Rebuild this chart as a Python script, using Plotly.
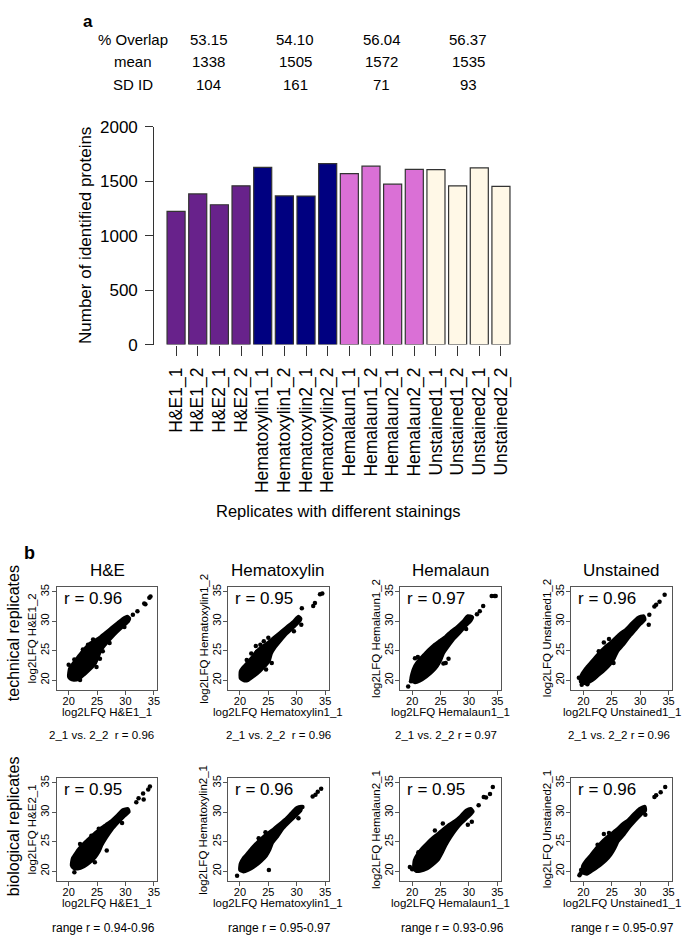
import plotly.graph_objects as go

W, H = 682, 945
FONT = "Liberation Sans, Arial, Helvetica, sans-serif"


def pxx(x):
    return x / W


def pyy(y):
    return 1 - y / H


# ---------------- Panel a data ----------------
samples = ["H&E1_1", "H&E1_2", "H&E2_1", "H&E2_2",
           "Hematoxylin1_1", "Hematoxylin1_2", "Hematoxylin2_1", "Hematoxylin2_2",
           "Hemalaun1_1", "Hemalaun1_2", "Hemalaun2_1", "Hemalaun2_2",
           "Unstained1_1", "Unstained1_2", "Unstained2_1", "Unstained2_2"]
protein_counts = [1223, 1382, 1283, 1457,
                  1625, 1364, 1363, 1661,
                  1568, 1637, 1472, 1607,
                  1606, 1457, 1622, 1451]
staining_groups = ["H&E", "Hematoxylin", "Hemalaun", "Unstained"]
group_colors = ["#68228B", "#000080", "#DA70D6", "#FFF8E7"]
overlap_pct = ["53.15", "54.10", "56.04", "56.37"]
mean_ids = ["1338", "1505", "1572", "1535"]
sd_ids = ["104", "161", "71", "93"]
y_ticks_a = [0, 500, 1000, 1500, 2000]

# ---------------- Panel b data ----------------
# dense point clouds traced as outlines (x, y) plus visible outlying points
tech_labels = [("log2LFQ H&E1_1", "log2LFQ H&E1_2"),
               ("log2LFQ Hematoxylin1_1", "log2LFQ Hematoxylin1_2"),
               ("log2LFQ Hemalaun1_1", "log2LFQ Hemalaun1_2"),
               ("log2LFQ Unstained1_1", "log2LFQ Unstained1_2")]
bio_labels = [("log2LFQ H&E1_1", "log2LFQ H&E2_1"),
              ("log2LFQ Hematoxylin1_1", "log2LFQ Hematoxylin2_1"),
              ("log2LFQ Hemalaun1_1", "log2LFQ Hemalaun2_1"),
              ("log2LFQ Unstained1_1", "log2LFQ Unstained2_1")]
tech_r = ["r = 0.96", "r = 0.95", "r = 0.97", "r = 0.96"]
bio_r = ["r = 0.95", "r = 0.96", "r = 0.95", "r = 0.96"]
tech_notes = ["2_1 vs. 2_2\u00a0 r = 0.96", "2_1 vs. 2_2\u00a0 r = 0.96",
              "2_1 vs. 2_2 r = 0.97", "2_1 vs. 2_2 r = 0.96"]
bio_notes = ["range r = 0.94-0.96", "range r = 0.95-0.97",
             "range r = 0.93-0.96", "range r = 0.95-0.97"]
scatter_ticks = [20, 25, 30, 35]

cloud_T1 = [(20.0, 20.6), (20.2, 22.0), (20.8, 22.8), (21.5, 23.7), (22.3, 24.7), (23.1, 25.6),
            (23.9, 26.3), (24.8, 26.8), (25.7, 27.4), (26.6, 28.1), (27.6, 28.9), (28.6, 29.7),
            (29.5, 30.4), (30.3, 30.8), (30.7, 30.5), (30.5, 30.0), (29.6, 29.2), (28.5, 28.2),
            (27.4, 27.1), (26.3, 25.9), (25.6, 25.0), (25.2, 24.0), (24.7, 22.9), (23.8, 21.9),
            (22.8, 21.0), (21.8, 20.2), (20.9, 20.0), (20.3, 20.2)]
out_T1 = [(20.0, 22.6), (21.2, 22.9), (22.5, 25.2), (23.4, 26.0), (24.9, 22.2), (25.5, 23.6),
          (26.0, 24.9), (27.2, 26.3), (29.8, 29.0), (31.3, 31.1), (32.1, 31.7), (33.3, 33.0),
          (33.5, 32.9), (34.2, 34.0), (34.4, 34.2), (22.0, 20.0), (21.0, 23.5), (24.3, 26.9)]

cloud_T2 = [(20.1, 20.3), (20.1, 21.5), (20.6, 22.2), (21.3, 22.9), (22.1, 23.8), (22.9, 24.8),
            (23.7, 25.5), (24.6, 26.1), (25.5, 26.8), (26.5, 27.6), (27.5, 28.4), (28.5, 29.2),
            (29.5, 30.0), (30.3, 30.8), (30.7, 30.4), (30.3, 29.8), (29.3, 28.9), (28.2, 27.9),
            (27.2, 26.8), (26.2, 25.6), (25.5, 24.5), (25.1, 23.2), (24.4, 22.4), (23.5, 21.5),
            (22.5, 20.7), (21.5, 20.0), (20.7, 19.9)]
out_T2 = [(22.0, 24.5), (22.8, 25.8), (23.0, 24.8), (23.6, 26.0), (24.2, 26.6), (25.0, 27.2),
          (24.6, 21.8), (25.6, 22.9), (29.5, 28.3), (30.8, 29.4), (30.9, 32.2), (32.9, 32.6),
          (33.2, 33.1), (34.1, 34.6), (34.5, 34.7), (21.2, 23.4)]

cloud_T3 = [(19.8, 20.0), (20.0, 21.1), (20.5, 22.4), (21.2, 23.4), (22.0, 24.2), (22.9, 25.1),
            (23.9, 26.0), (24.9, 26.7), (25.9, 27.4), (26.9, 28.3), (27.9, 29.0), (28.9, 29.9),
            (29.8, 30.9), (30.6, 30.7), (30.3, 30.1), (29.3, 29.1), (28.3, 28.0), (27.3, 27.0),
            (26.3, 25.7), (25.5, 24.6), (25.0, 23.4), (24.4, 22.4), (23.5, 21.4), (22.5, 20.6),
            (21.4, 19.9), (20.5, 19.6)]
out_T3 = [(19.3, 18.9), (19.8, 19.8), (20.5, 23.7), (21.0, 23.9), (25.5, 22.8), (25.9, 22.9),
          (26.4, 23.6), (29.5, 28.7), (31.4, 31.2), (31.9, 31.7), (32.5, 32.6), (34.0, 34.3),
          (34.5, 34.3), (34.7, 34.3)]

cloud_T4 = [(19.5, 19.7), (19.6, 20.7), (20.3, 21.8), (21.1, 22.7), (21.9, 23.6), (22.8, 24.6),
            (23.7, 25.5), (24.6, 26.2), (25.5, 27.0), (26.5, 27.9), (27.5, 28.6), (28.5, 29.6),
            (29.6, 30.6), (30.6, 30.9), (30.8, 30.3), (30.0, 29.5), (29.0, 28.4), (28.0, 27.3),
            (27.0, 26.0), (26.0, 24.9), (25.4, 23.7), (24.7, 22.7), (23.8, 21.8), (22.7, 20.9),
            (21.6, 20.0), (20.4, 19.4)]
out_T4 = [(19.2, 20.4), (19.7, 19.2), (20.7, 19.3), (22.7, 24.9), (23.6, 26.4), (24.5, 27.0),
          (25.3, 22.9), (31.5, 29.4), (31.6, 31.1), (32.5, 32.5), (32.8, 32.8), (33.4, 33.3),
          (34.3, 34.5)]

cloud_B1 = [(20.5, 21.0), (20.7, 22.2), (21.3, 23.1), (22.1, 24.1), (22.9, 24.9), (23.8, 25.7),
            (24.7, 26.5), (25.6, 27.2), (26.6, 27.9), (27.6, 28.6), (28.6, 29.5), (29.5, 30.4),
            (30.4, 30.6), (30.6, 30.1), (29.7, 29.3), (28.6, 28.2), (27.6, 27.1), (26.6, 25.7),
            (25.8, 24.4), (25.3, 23.3), (24.6, 22.3), (23.7, 21.5), (22.7, 20.8), (21.6, 20.4),
            (20.9, 20.5)]
out_B1 = [(21.0, 19.8), (22.5, 24.3), (23.5, 25.2), (24.0, 26.0), (25.3, 27.2), (24.6, 21.5),
          (26.7, 23.5), (29.4, 28.2), (31.9, 31.7), (32.3, 32.4), (33.1, 33.2), (33.2, 32.2),
          (34.0, 33.9), (34.3, 34.4), (22.0, 24.6)]

cloud_B2 = [(20.0, 20.2), (20.1, 21.3), (20.7, 22.3), (21.5, 23.2), (22.3, 24.1), (23.2, 25.0),
            (24.1, 25.8), (25.0, 26.5), (26.0, 27.2), (27.0, 28.0), (28.0, 28.8), (29.0, 29.8),
            (29.9, 30.7), (30.8, 31.0), (30.7, 30.3), (29.8, 29.4), (28.7, 28.4), (27.6, 27.3),
            (26.6, 25.9), (25.7, 24.8), (25.2, 23.6), (24.6, 22.6), (23.7, 21.7), (22.7, 20.9),
            (21.5, 20.2), (20.6, 19.9)]
out_B2 = [(19.5, 19.2), (24.5, 26.6), (23.3, 25.6), (25.1, 20.2), (30.3, 29.0), (31.0, 30.9),
          (32.8, 32.7), (33.3, 33.0), (33.7, 33.5), (34.3, 34.0)]

cloud_B3 = [(20.3, 20.4), (20.4, 21.8), (21.0, 22.9), (21.8, 23.9), (22.7, 24.8), (23.6, 25.6),
            (24.5, 26.3), (25.5, 27.1), (26.5, 27.9), (27.5, 28.5), (28.5, 29.3), (29.5, 30.3),
            (30.3, 30.6), (30.7, 30.1), (29.8, 29.2), (28.7, 28.2), (27.7, 27.1), (26.7, 25.7),
            (25.9, 24.4), (25.3, 23.2), (24.6, 22.0), (23.6, 21.1), (22.6, 20.4), (21.4, 20.0),
            (20.7, 20.0)]
out_B3 = [(19.6, 20.7), (20.0, 20.3), (21.1, 23.2), (24.0, 26.9), (25.4, 28.1), (30.5, 28.4),
          (29.8, 27.9), (31.7, 31.2), (32.6, 32.6), (33.0, 32.5), (33.7, 33.1), (34.2, 34.3)]

cloud_B4 = [(19.8, 19.8), (19.9, 20.9), (20.6, 21.9), (21.4, 22.8), (22.2, 23.8), (23.1, 24.8),
            (24.0, 25.6), (24.9, 26.3), (25.9, 27.1), (26.9, 28.0), (27.9, 28.7), (28.9, 29.7),
            (29.9, 30.6), (30.8, 31.0), (30.9, 30.3), (30.1, 29.6), (29.1, 28.6), (28.1, 27.5),
            (27.1, 26.2), (26.1, 25.1), (25.5, 23.9), (24.8, 22.8), (23.9, 21.8), (22.9, 21.0),
            (21.7, 20.2), (20.6, 19.5)]
out_B4 = [(19.3, 19.3), (19.6, 20.2), (19.5, 19.6), (22.5, 24.5), (23.6, 26.3), (24.5, 26.5),
          (30.9, 29.6), (30.5, 30.0), (32.5, 32.6), (32.8, 32.9), (33.6, 33.4), (34.4, 34.3)]

tech_clouds = [(cloud_T1, out_T1), (cloud_T2, out_T2), (cloud_T3, out_T3), (cloud_T4, out_T4)]
bio_clouds = [(cloud_B1, out_B1), (cloud_B2, out_B2), (cloud_B3, out_B3), (cloud_B4, out_B4)]

# ---------------- layout geometry (pixels) ----------------
BAR_L, BAR_R = 154, 526
BAR_TOP, BAR_BOT = 120, 342.5
COLS = [(57, 158), (229, 330), (402, 503), (574, 675)]
ROWS = [(590, 695), (785, 890)]
XR = [17.9, 35.6]
YR = [18.3, 35.8]

fig = go.Figure()
annotations = []


def ann(text, x, y, size, xanchor="center", yanchor="middle", angle=0, bold=False):
    annotations.append(dict(
        text=("<b>%s</b>" % text) if bold else text,
        x=x, y=y, xref="paper", yref="paper",
        xanchor=xanchor, yanchor=yanchor, textangle=angle, showarrow=False,
        font=dict(family=FONT, size=size, color="black")))


# ---------------- Panel a ----------------
bar_colors = [group_colors[i // 4] for i in range(len(samples))]
fig.add_trace(go.Bar(x=samples, y=protein_counts, marker=dict(color=bar_colors,
                     line=dict(color="#333333", width=1.2)),
                     xaxis="x", yaxis="y", showlegend=False))

fig.update_layout(
    xaxis=dict(domain=[pxx(BAR_L), pxx(BAR_R)], range=[-1.05, 16.05], type="category",
               showline=False, showgrid=False, zeroline=False, ticks="outside", ticklen=10,
               tickcolor="#333333", tickangle=-90, ticklabelstandoff=5,
               tickfont=dict(family=FONT, size=17.5, color="black"), anchor="y"),
    yaxis=dict(domain=[pyy(BAR_BOT), pyy(BAR_TOP)], range=[0, 2000], tickvals=y_ticks_a,
               showline=True, linecolor="#333333", linewidth=1.2, showgrid=False, zeroline=False,
               ticks="outside", ticklen=8, tickcolor="#333333", ticklabelstandoff=4,
               tickfont=dict(family=FONT, size=17, color="black"), anchor="free",
               position=pxx(BAR_L)),
    bargap=1 - 1 / 1.2,
)

ann("a", pxx(88), pyy(13), 17, bold=True)
ann("Number of identified proteins", pxx(86), pyy(231), 17, angle=-90)
ann("Replicates with different stainings", pxx(340), pyy(512), 16.5)
row_names = ["% Overlap", "mean", "SD ID"]
row_y = [31, 54, 77]
for name, yy in zip(row_names, row_y):
    ann(name, pxx(134), pyy(yy), 15)
for g in range(4):
    gx = 4 * g + 1.5
    for vals, yy in zip([overlap_pct, mean_ids, sd_ids], row_y):
        annotations.append(dict(text=vals[g], x=gx, y=pyy(yy), xref="x", yref="paper",
                                xanchor="center", yanchor="middle", showarrow=False,
                                font=dict(family=FONT, size=15, color="black")))

# ---------------- Panel b ----------------
ann("b", pxx(30), pyy(555), 18, bold=True)
ann("technical replicates", pxx(13), pyy(637), 16, angle=-90)
ann("biological replicates", pxx(13), pyy(834), 16, angle=-90)

note_x_top = [102, 280, 448, 622]
note_x_bot = [104, 281, 454, 625]

idx = 2
for r, (rt, rb) in enumerate(ROWS):
    clouds = tech_clouds if r == 0 else bio_clouds
    labels = tech_labels if r == 0 else bio_labels
    rtexts = tech_r if r == 0 else bio_r
    notes = tech_notes if r == 0 else bio_notes
    for c, (cl, cr) in enumerate(COLS):
        xa, ya = "x%d" % idx, "y%d" % idx
        poly, outs = clouds[c]
        px_ = [p[0] for p in poly] + [poly[0][0]]
        py_ = [p[1] for p in poly] + [poly[0][1]]
        fig.add_trace(go.Scatter(x=px_, y=py_, mode="lines", fill="toself", fillcolor="black",
                                 line=dict(color="black", width=3.5, shape="spline", smoothing=0.5),
                                 xaxis=xa, yaxis=ya, showlegend=False, hoverinfo="skip"))
        fig.add_trace(go.Scatter(x=[p[0] for p in outs], y=[p[1] for p in outs], mode="markers",
                                 marker=dict(color="black", size=4.5), xaxis=xa, yaxis=ya,
                                 showlegend=False))
        axcommon = dict(showline=True, mirror=True, linecolor="#555555", linewidth=1,
                        showgrid=False, zeroline=False, ticks="outside", ticklen=4,
                        tickcolor="#555555", tickvals=scatter_ticks,
                        tickfont=dict(family=FONT, size=11, color="black"))
        fig.update_layout({
            "xaxis%d" % idx: dict(domain=[pxx(cl), pxx(cr)], range=XR, anchor=ya,
                                  ticklabelstandoff=-3, **axcommon),
            "yaxis%d" % idx: dict(domain=[pyy(rb), pyy(rt)], range=YR, anchor=xa, tickangle=-90,
                                  ticklabelstandoff=-2, **axcommon),
        })
        cx = (cl + cr) / 2
        cy = (rt + rb) / 2
        ann(labels[c][0], pxx(cx), pyy(rb + 22), 11.5)
        ann(labels[c][1], pxx(cl - 25), pyy(cy), 11.5, angle=-90)
        ann(rtexts[c], pxx(cl + 5), pyy(rt + 12), 17, xanchor="left")
        if r == 0:
            ann(staining_groups[c], pxx(cx), pyy(573), 17)
            ann(notes[c], pxx(note_x_top[c]), pyy(741), 11.5)
        else:
            ann(notes[c], pxx(note_x_bot[c]), pyy(938), 12)
        idx += 1

fig.update_layout(width=W, height=H, margin=dict(l=0, r=0, t=0, b=0),
                  paper_bgcolor="white", plot_bgcolor="white",
                  annotations=annotations, font=dict(family=FONT))

fig.write_html("out.html", config={"displayModeBar": False},
               post_script="document.body.style.margin='0';document.body.style.overflow='hidden';")
